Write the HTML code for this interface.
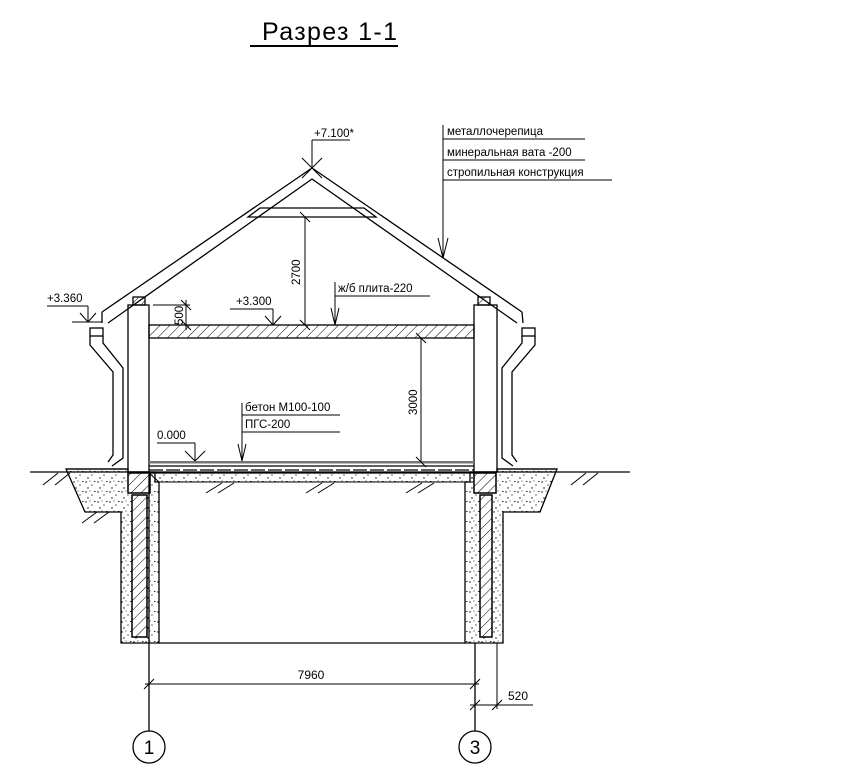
<!DOCTYPE html>
<html><head><meta charset="utf-8"><style>
html,body{margin:0;padding:0;background:#fff}
svg{display:block}
text{font-family:"Liberation Sans",sans-serif;fill:#000}
</style></head><body>
<svg width="845" height="773" viewBox="0 0 845 773" xmlns="http://www.w3.org/2000/svg">
<defs>
<pattern id="h" width="7" height="7" patternUnits="userSpaceOnUse" patternTransform="rotate(45)">
<line x1="0" y1="0" x2="0" y2="7" stroke="#000" stroke-width="1"/></pattern>
<pattern id="d" width="12" height="10" patternUnits="userSpaceOnUse">
<circle cx="2" cy="2" r=".7" fill="#000"/><circle cx="8" cy="5" r=".6" fill="#000"/><circle cx="4" cy="8" r=".7" fill="#000"/><rect x="10" y="1" width="1.5" height=".8" fill="#000"/><circle cx="6" cy="1" r=".5" fill="#000"/></pattern>
</defs>
<g stroke="#000" fill="none" stroke-width="1.3">
<!-- title -->
<text x="262" y="40" font-size="25" stroke="none" textLength="135">Разрез 1-1</text>
<line x1="250" y1="46" x2="398" y2="46" stroke-width="2"/>

<!-- roof -->
<polyline points="102,312 312,168 522,312"/>
<polyline points="108,323 312,179 517,323"/>
<line x1="102" y1="312" x2="102" y2="323"/><line x1="522" y1="312" x2="523" y2="323"/>
<polygon points="248,217 260,208 364,208 376,217"/>
<!-- wall top blocks -->
<rect x="133" y="297" width="12" height="8" fill="url(#h)"/>
<rect x="478" y="297" width="12" height="8" fill="url(#h)"/>
<!-- walls -->
<rect x="128" y="305" width="21" height="167"/>
<rect x="474" y="305" width="23" height="167"/>
<!-- attic slab -->
<rect x="149" y="325" width="325" height="13" fill="url(#h)"/>
<!-- floor -->
<rect x="149" y="461" width="325" height="2.5" fill="#777" stroke="none"/>
<line x1="149" y1="466" x2="474" y2="466"/><line x1="149" y1="470" x2="474" y2="470" stroke-dasharray="14 3"/>
<line x1="149" y1="473" x2="474" y2="473"/>
<!-- ground -->
<line x1="30" y1="472" x2="630" y2="472"/>
<!-- foundation concrete -->
<path d="M66,469 L128,469 L128,472 L155,472 L155,482 L159,482 L159,643 L121,643 L121,512 L85,512 Z" fill="url(#d)"/>
<path d="M149,473 L474,473 L474,482 L159,482 Z" fill="url(#d)" stroke-width="1"/>
<path d="M557,469 L497,469 L497,472 L470,472 L470,482 L465,482 L465,643 L503,643 L503,512 L540,512 Z" fill="url(#d)"/>
<line x1="159" y1="643" x2="465" y2="643"/>
<rect x="128" y="473" width="22" height="20" fill="url(#h)" style="fill:#fff"/>
<rect x="128" y="473" width="22" height="20" fill="url(#h)"/>
<rect x="474" y="473" width="22" height="20" fill="#fff"/>
<rect x="474" y="473" width="22" height="20" fill="url(#h)"/>
<rect x="132" y="495" width="15" height="142" fill="#fff"/>
<rect x="132" y="495" width="15" height="142" fill="url(#h)"/>
<rect x="480" y="495" width="12" height="142" fill="#fff"/>
<rect x="480" y="495" width="12" height="142" fill="url(#h)"/>
<!-- ground hatch ticks -->
<g stroke-width="1">
<line x1="43" y1="485" x2="58" y2="473"/><line x1="55" y1="485" x2="70" y2="473"/>
<line x1="82" y1="523" x2="97" y2="512"/><line x1="94" y1="523" x2="109" y2="512"/>
<line x1="206" y1="493" x2="222" y2="483"/><line x1="218" y1="493" x2="234" y2="483"/>
<line x1="306" y1="493" x2="322" y2="483"/><line x1="318" y1="493" x2="334" y2="483"/>
<line x1="406" y1="493" x2="422" y2="483"/><line x1="418" y1="493" x2="434" y2="483"/>
<line x1="571" y1="485" x2="586" y2="473"/><line x1="583" y1="485" x2="598" y2="473"/>
</g>
<!-- downpipes -->
<rect x="90" y="328" width="13" height="8"/>
<polyline points="90,336 90,345 113,372 113,455 108,462"/>
<polyline points="103,336 103,343 123,368 123,458 112,466"/>
<rect x="522" y="328" width="13" height="8"/>
<polyline points="535,336 535,345 512,372 512,455 517,462"/>
<polyline points="522,336 522,343 502,368 502,458 513,466"/>
<line x1="66" y1="469" x2="128" y2="469"/><line x1="497" y1="469" x2="557" y2="469"/>

<!-- axes -->
<line x1="149" y1="472" x2="149" y2="731"/>
<line x1="475" y1="643" x2="475" y2="731"/>
<circle cx="149" cy="747" r="16"/><circle cx="475" cy="747" r="16"/>
<text x="149" y="754" font-size="19" stroke="none" text-anchor="middle">1</text>
<text x="475" y="754" font-size="19" stroke="none" text-anchor="middle">3</text>
<!-- 7960 -->
<g stroke-width="1">
<line x1="145" y1="684" x2="479" y2="684"/>
<line x1="144" y1="689" x2="154" y2="679"/><line x1="470" y1="689" x2="480" y2="679"/>
<line x1="497" y1="643" x2="497" y2="709"/>
<line x1="470" y1="705" x2="533" y2="705"/>
<line x1="470" y1="710" x2="480" y2="700"/><line x1="492" y1="710" x2="502" y2="700"/>
</g>
<text x="311" y="679" font-size="12" stroke="none" text-anchor="middle">7960</text>
<text x="508" y="700" font-size="12" stroke="none">520</text>

<!-- elevations -->
<g stroke-width="1">
<line x1="312" y1="140" x2="312" y2="168"/><line x1="312" y1="140" x2="350" y2="140"/>
<line x1="302" y1="158" x2="322" y2="178"/><line x1="322" y1="158" x2="302" y2="178"/>
<line x1="47" y1="306" x2="88" y2="306"/><line x1="88" y1="306" x2="88" y2="322"/>
<line x1="72" y1="322" x2="102" y2="322"/><line x1="80" y1="313" x2="88" y2="322"/><line x1="96" y1="313" x2="88" y2="322"/>
<line x1="230" y1="309" x2="273" y2="309"/><line x1="273" y1="309" x2="273" y2="325"/><line x1="265" y1="316" x2="273" y2="325"/><line x1="281" y1="316" x2="273" y2="325"/>
<line x1="157" y1="443" x2="195" y2="443"/><line x1="195" y1="443" x2="195" y2="461"/><line x1="185" y1="451" x2="195" y2="461"/><line x1="205" y1="451" x2="195" y2="461"/>
<!-- 500 -->
<line x1="153" y1="305" x2="190" y2="305"/><line x1="186" y1="300" x2="186" y2="330"/>
<line x1="181" y1="300" x2="191" y2="310"/><line x1="181" y1="320" x2="191" y2="330"/>
<!-- 2700 -->
<line x1="305" y1="217" x2="305" y2="325"/><line x1="300" y1="212" x2="310" y2="222"/><line x1="300" y1="320" x2="310" y2="330"/>
<!-- 3000 -->
<line x1="421" y1="338" x2="421" y2="462"/><line x1="416" y1="333" x2="426" y2="343"/><line x1="416" y1="457" x2="426" y2="467"/>
<!-- leaders -->
<line x1="443" y1="125" x2="443" y2="258"/><line x1="438" y1="238" x2="443" y2="258"/><line x1="448" y1="238" x2="443" y2="258"/>
<line x1="443" y1="139" x2="585" y2="139"/><line x1="443" y1="160" x2="585" y2="160"/><line x1="443" y1="180" x2="612" y2="180"/>
<line x1="335" y1="296" x2="430" y2="296"/><line x1="335" y1="282" x2="335" y2="325"/><line x1="331" y1="308" x2="335" y2="325"/><line x1="339" y1="308" x2="335" y2="325"/>
<line x1="242" y1="415" x2="340" y2="415"/><line x1="242" y1="432" x2="340" y2="432"/><line x1="242" y1="403" x2="242" y2="461"/><line x1="238" y1="444" x2="242" y2="461"/><line x1="246" y1="444" x2="242" y2="461"/>
</g>
</g>
<g font-size="11.5">
<text x="314" y="137">+7.100*</text>
<text x="47" y="302">+3.360</text>
<text x="236" y="305">+3.300</text>
<text x="157" y="439">0.000</text>
<text x="447" y="135">металлочерепица</text>
<text x="447" y="156">минеральная вата -200</text>
<text x="447" y="176">стропильная конструкция</text>
<text x="338" y="292">ж/б плита-220</text>
<text x="245" y="411">бетон М100-100</text>
<text x="245" y="428">ПГС-200</text>
<text transform="translate(183,325) rotate(-90)">500</text>
<text transform="translate(300,285) rotate(-90)">2700</text>
<text transform="translate(417,415) rotate(-90)">3000</text>
</g>
</svg>
</body></html>
